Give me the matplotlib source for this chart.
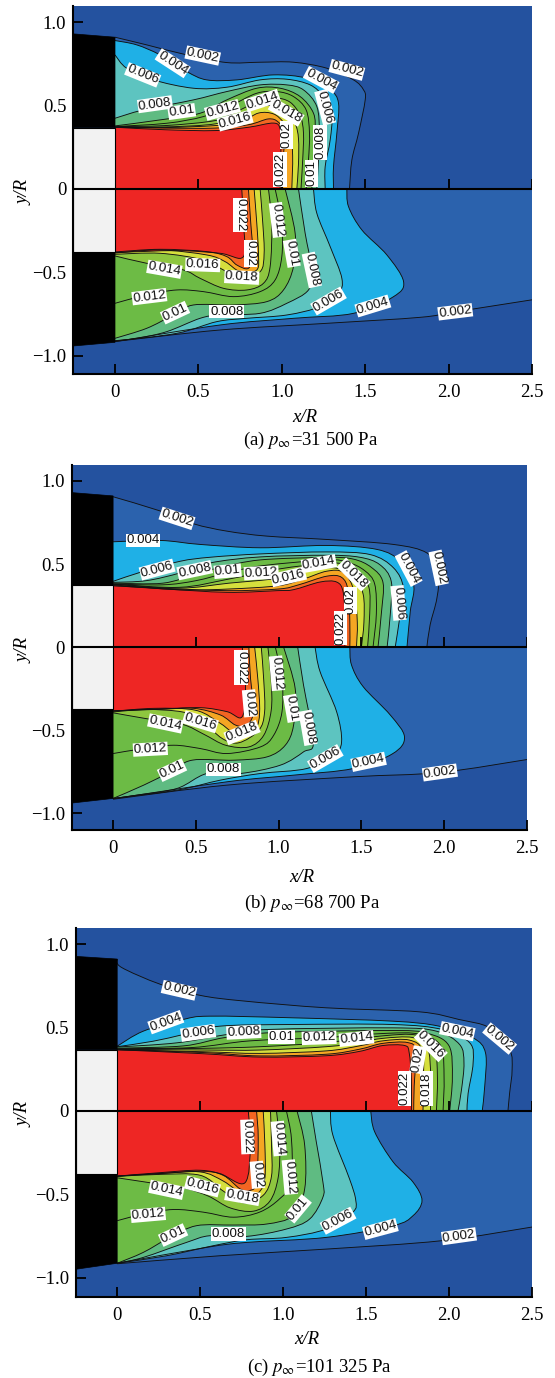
import matplotlib
matplotlib.use('Agg')
import matplotlib.pyplot as plt
from matplotlib.path import Path
from matplotlib.patches import PathPatch, Polygon

plt.rcParams['font.family'] = ['Liberation Serif', 'DejaVu Serif']
plt.rcParams['mathtext.fontset'] = 'stix'

levels = [0.002, 0.004, 0.006, 0.008, 0.01, 0.012, 0.014, 0.016, 0.018, 0.02, 0.022]
band_colors = ['#2b62ad', '#1fb0e6', '#5dc4c0', '#5fbb82', '#6cbb45', '#6dbb45',
               '#8ec63f', '#d6df3d', '#f5a623', '#f26522', '#ee2624']
x_ticks = [0, 0.5, 1.0, 1.5, 2.0, 2.5]
x_tick_labels = ['0', '0.5', '1.0', '1.5', '2.0', '2.5']
y_ticks = [-1.0, -0.5, 0, 0.5, 1.0]
y_tick_labels = ['\u22121.0', '\u22120.5', '0', '0.5', '1.0']

# contour lines, one per level as (x/R, y/R)
a_top = [
    [(0, .91), (.19, .864), (.43, .804), (.67, .758), (.87, .76), (1.07, .76), (1.27, .724), (1.43, .654), (1.49, .594), (1.50, .534), (1.46, .334), (1.42, .174), (1.406, 0)],
    [(0, .89), (.13, .864), (.27, .804), (.43, .704), (.55, .654), (.73, .654), (.95, .684), (1.15, .664), (1.29, .594), (1.34, .514), (1.33, .334), (1.31, .134), (1.31, 0)],
    [(0, .804), (.07, .724), (.23, .654), (.47, .604), (.67, .61), (.87, .654), (1.03, .658), (1.17, .624), (1.25, .554), (1.30, .454), (1.29, .294), (1.26, .134), (1.26, 0)],
    [(0, .424), (.17, .474), (.47, .534), (.67, .584), (.87, .624), (1.03, .624), (1.13, .594), (1.21, .494), (1.226, .334), (1.22, .174), (1.21, 0)],
    [(0, .378), (.27, .414), (.51, .454), (.67, .534), (.85, .604), (.99, .604), (1.11, .554), (1.19, .454), (1.2, .334), (1.19, .174), (1.18, 0)],
    [(0, .374), (.31, .394), (.53, .434), (.69, .498), (.85, .574), (.97, .584), (1.07, .554), (1.146, .474), (1.166, .334), (1.16, .174), (1.146, 0)],
    [(0, .374), (.3, .38), (.6, .41), (.72, .46), (.85, .52), (.96, .545), (1.05, .52), (1.11, .44), (1.13, .334), (1.125, .17), (1.115, 0)],
    [(0, .372), (.3, .372), (.6, .39), (.74, .44), (.86, .49), (.95, .50), (1.02, .47), (1.08, .39), (1.10, .3), (1.10, .15), (1.09, 0)],
    [(0, .37), (.3, .368), (.6, .38), (.75, .40), (.86, .455), (.95, .45), (1.01, .40), (1.05, .33), (1.065, .2), (1.06, 0)],
    [(0, .37), (.3, .365), (.6, .365), (.8, .385), (.92, .42), (.98, .40), (1.02, .33), (1.01, .2), (1.005, 0)],
    [(0, .37), (.3, .355), (.6, .35), (.8, .37), (.95, .395), (.99, .36), (.995, .25), (.99, 0)],
]
a_bottom = [
    [(0, -.915), (.63, -.846), (1.27, -.806), (1.83, -.77), (2.04, -.737), (2.5, -.665)],
    [(1.39, 0), (1.40, -.106), (1.48, -.246), (1.63, -.396), (1.73, -.556), (1.67, -.646), (1.43, -.746), (1.07, -.776), (.63, -.816), (0, -.916)],
    [(1.19, 0), (1.21, -.146), (1.29, -.346), (1.36, -.536), (1.34, -.626), (1.23, -.706), (1.03, -.756), (.79, -.776), (.61, -.796), (.37, -.866), (0, -.912)],
    [(1.10, 0), (1.14, -.266), (1.18, -.486), (1.16, -.606), (1.03, -.686), (.87, -.746), (.63, -.756), (.51, -.776), (.31, -.856), (.13, -.896), (0, -.91)],
    [(1.02, 0), (1.08, -.266), (1.07, -.466), (1.01, -.606), (.91, -.676), (.71, -.696), (.47, -.696), (.35, -.756), (.19, -.836), (0, -.896)],
    [(.96, 0), (1.0, -.206), (1.0, -.406), (.96, -.546), (.87, -.616), (.71, -.646), (.53, -.616), (.37, -.606), (.19, -.636), (0, -.686)],
    [(.92, 0), (.94, -.206), (.93, -.466), (.89, -.566), (.79, -.606), (.65, -.596), (.51, -.536), (.41, -.486), (.19, -.446), (0, -.402)],
    [(.87, 0), (.886, -.206), (.894, -.386), (.87, -.496), (.75, -.53), (.65, -.486), (.53, -.426), (.27, -.386), (0, -.392)],
    [(.834, 0), (.85, -.206), (.86, -.386), (.85, -.486), (.75, -.496), (.66, -.436), (.55, -.396), (.27, -.366), (0, -.385)],
    [(.80, 0), (.814, -.206), (.826, -.386), (.80, -.476), (.73, -.456), (.67, -.406), (.55, -.376), (.27, -.362), (0, -.378)],
    [(.76, 0), (.77, -.2), (.77, -.406), (.63, -.386), (.37, -.37), (0, -.382)],
]
b_top = [
    [(0, .905), (.286, .819), (.487, .742), (.688, .698), (.93, .668), (1.29, .648), (1.694, .618), (1.895, .567), (1.966, .457), (1.956, .296), (1.915, .135), (1.895, 0)],
    [(0, .634), (.286, .642), (.527, .618), (.889, .598), (1.29, .612), (1.594, .588), (1.734, .517), (1.815, .376), (1.795, .215), (1.775, 0)],
    [(0, .396), (.185, .457), (.406, .517), (.587, .541), (.889, .561), (1.29, .573), (1.553, .557), (1.694, .477), (1.754, .356), (1.734, .195), (1.704, 0)],
    [(0, .39), (.2, .40), (.406, .447), (.587, .507), (.889, .543), (1.29, .553), (1.49, .541), (1.61, .497), (1.68, .396), (1.674, .195), (1.655, 0)],
    [(0, .385), (.3, .385), (.5, .44), (.65, .48), (.889, .525), (1.29, .54), (1.45, .53), (1.56, .48), (1.63, .39), (1.62, .2), (1.60, 0)],
    [(0, .38), (.3, .375), (.5, .40), (.7, .45), (.9, .49), (1.29, .525), (1.42, .51), (1.52, .46), (1.58, .38), (1.59, .2), (1.57, 0)],
    [(0, .38), (.4, .36), (.7, .41), (1.0, .47), (1.29, .505), (1.40, .495), (1.48, .44), (1.545, .36), (1.55, .2), (1.537, 0)],
    [(0, .378), (.4, .355), (.7, .385), (1.0, .415), (1.2, .465), (1.35, .475), (1.45, .42), (1.51, .32), (1.515, .15), (1.50, 0)],
    [(0, .375), (.4, .345), (.7, .35), (1.0, .37), (1.15, .41), (1.29, .457), (1.39, .45), (1.455, .34), (1.475, .15), (1.47, 0)],
    [(0, .37), (.286, .355), (.688, .34), (1.0, .35), (1.12, .375), (1.29, .427), (1.38, .42), (1.42, .34), (1.43, .15), (1.43, 0)],
    [(0, .37), (.286, .352), (.688, .33), (.99, .34), (1.09, .346), (1.25, .392), (1.35, .392), (1.39, .33), (1.40, .15), (1.40, 0)],
]
b_bottom = [
    [(0, -.915), (.688, -.83), (1.45, -.78), (1.974, -.754), (2.5, -.676)],
    [(1.43, 0), (1.44, -.107), (1.51, -.237), (1.674, -.408), (1.76, -.54), (1.69, -.64), (1.45, -.73), (1.09, -.77), (.688, -.81), (0, -.912)],
    [(1.22, 0), (1.25, -.147), (1.35, -.388), (1.38, -.57), (1.33, -.65), (1.17, -.73), (.89, -.76), (.648, -.80), (.386, -.86), (0, -.91)],
    [(1.115, 0), (1.15, -.227), (1.21, -.57), (1.15, -.63), (1.01, -.71), (.77, -.76), (.567, -.76), (.386, -.85), (.145, -.89), (0, -.91)],
    [(1.03, 0), (1.10, -.25), (1.09, -.47), (1.04, -.59), (.93, -.66), (.73, -.68), (.477, -.68), (.346, -.75), (.185, -.83), (0, -.91)],
    [(.98, 0), (1.02, -.19), (1.02, -.39), (.97, -.53), (.89, -.60), (.688, -.64), (.527, -.61), (.366, -.59), (.185, -.61), (0, -.64)],
    [(.935, 0), (.955, -.2), (.955, -.38), (.91, -.53), (.82, -.60), (.68, -.59), (.55, -.525), (.42, -.465), (.2, -.43), (0, -.395)],
    [(.895, 0), (.91, -.2), (.915, -.39), (.88, -.5), (.76, -.575), (.66, -.55), (.53, -.44), (.42, -.39), (.2, -.375), (0, -.39)],
    [(.855, 0), (.875, -.2), (.885, -.39), (.86, -.49), (.76, -.535), (.65, -.46), (.5, -.38), (.25, -.368), (0, -.386)],
    [(.82, 0), (.83, -.187), (.85, -.378), (.81, -.469), (.74, -.469), (.648, -.408), (.487, -.368), (.286, -.372), (0, -.384)],
    [(.78, 0), (.80, -.227), (.78, -.418), (.688, -.388), (.527, -.364), (.286, -.374), (0, -.382)],
]
c_top = [
    [(0, .91), (.026, .86), (.257, .76), (.498, .693), (.76, .659), (1.26, .618), (1.82, .594), (2.06, .548), (2.245, .498), (2.365, .367), (2.38, .247), (2.365, .106), (2.355, 0)],
    [(0, .388), (.157, .478), (.398, .548), (.558, .568), (1.06, .558), (1.66, .538), (1.94, .508), (2.145, .438), (2.22, .347), (2.215, .147), (2.2, 0)],
    [(0, .385), (.217, .418), (.398, .458), (.618, .508), (1.06, .518), (1.66, .518), (1.96, .488), (2.125, .408), (2.145, .287), (2.115, .106), (2.108, 0)],
    [(0, .383), (.357, .408), (.659, .458), (.90, .488), (1.66, .498), (1.924, .478), (2.064, .398), (2.09, .287), (2.075, .127), (2.054, 0)],
    [(0, .376), (.4, .39), (.65, .44), (.95, .47), (1.66, .482), (1.87, .465), (2.0, .39), (2.02, .2), (2.004, 0)],
    [(0, .373), (.45, .38), (.8, .42), (1.26, .44), (1.62, .465), (1.82, .46), (1.95, .39), (1.97, .2), (1.964, 0)],
    [(0, .37), (.5, .375), (.86, .385), (1.26, .41), (1.6, .45), (1.8, .455), (1.91, .39), (1.93, .2), (1.924, 0)],
    [(0, .37), (.518, .365), (.86, .365), (1.26, .385), (1.46, .41), (1.6, .435), (1.78, .44), (1.87, .38), (1.89, .2), (1.888, 0)],
    [(0, .367), (.518, .355), (.86, .345), (1.26, .36), (1.46, .39), (1.60, .42), (1.76, .425), (1.84, .36), (1.845, .15), (1.843, 0)],
    [(0, .367), (.518, .35), (.86, .33), (1.26, .34), (1.46, .37), (1.60, .405), (1.75, .41), (1.80, .36), (1.79, .15), (1.787, 0)],
    [(0, .367), (.518, .343), (.86, .323), (1.26, .331), (1.46, .357), (1.60, .392), (1.733, .392), (1.76, .347), (1.773, .187), (1.773, 0)],
]
c_bottom = [
    [(0, -.915), (.618, -.867), (1.26, -.827), (1.954, -.777), (2.5, -.695)],
    [(1.528, 0), (1.552, -.125), (1.663, -.305), (1.783, -.426), (1.837, -.536), (1.783, -.627), (1.663, -.687), (1.26, -.757), (.78, -.787), (.538, -.817), (0, -.912)],
    [(1.285, 0), (1.30, -.145), (1.40, -.406), (1.438, -.536), (1.42, -.606), (1.26, -.707), (1.02, -.757), (.78, -.771), (.578, -.807), (.297, -.867), (0, -.912)],
    [(1.17, 0), (1.20, -.185), (1.24, -.426), (1.24, -.516), (1.16, -.647), (1.02, -.707), (.78, -.751), (.558, -.747), (.418, -.787), (.157, -.877), (0, -.912)],
    [(1.084, 0), (1.13, -.205), (1.13, -.466), (1.06, -.627), (.90, -.677), (.70, -.683), (.478, -.687), (.317, -.757), (.157, -.847), (0, -.912)],
    [(1.02, 0), (1.05, -.165), (1.05, -.425), (.98, -.525), (.86, -.605), (.70, -.636), (.52, -.606), (.34, -.59), (.157, -.617), (0, -.657)],
    [(.96, 0), (.98, -.2), (.97, -.4), (.92, -.54), (.82, -.60), (.68, -.58), (.55, -.51), (.40, -.46), (.2, -.43), (0, -.40)],
    [(.924, 0), (.93, -.2), (.93, -.39), (.88, -.505), (.76, -.55), (.64, -.48), (.50, -.385), (.25, -.38), (0, -.392)],
    [(.88, 0), (.89, -.2), (.89, -.4), (.85, -.49), (.76, -.50), (.64, -.42), (.50, -.365), (.25, -.375), (0, -.39)],
    [(.84, 0), (.85, -.165), (.84, -.426), (.80, -.476), (.74, -.466), (.64, -.386), (.50, -.355), (.25, -.37), (0, -.39)],
    [(.79, 0), (.803, -.205), (.77, -.43), (.62, -.375), (.50, -.361), (.257, -.375), (0, -.39)],
]

# contour labels: text, x/R, y/R, angle
a_labels = [
    ('0.002', .526, .80, -12), ('0.004', .346, .754, -33), ('0.006', .166, .684, -22),
    ('0.008', .24, .508, 8), ('0.01', .40, .464, 8), ('0.012', .644, .474, 15),
    ('0.016', .72, .41, 15), ('0.014', .884, .53, 18), ('0.018', 1.026, .46, -30),
    ('0.02', 1.03, .324, 90), ('0.022', .99, .118, 90), ('0.002', 1.39, .714, -15),
    ('0.004', 1.236, .654, -28), ('0.006', 1.26, .49, -75), ('0.008', 1.23, .278, 90),
    ('0.01', 1.18, .094, 90),
    ('0.022', .75, -.156, -90), ('0.02', .814, -.386, -90), ('0.012', .974, -.186, -83),
    ('0.01', 1.06, -.386, -80), ('0.008', 1.18, -.486, -78), ('0.014', .296, -.482, -10),
    ('0.016', .526, -.456, -2), ('0.018', .76, -.53, -3), ('0.012', .206, -.646, 7),
    ('0.01', .36, -.742, 25), ('0.008', .67, -.736, 0), ('0.006', 1.28, -.672, 30),
    ('0.004', 1.546, -.702, 17), ('0.002', 2.04, -.737, 7),
]
b_labels = [
    ('0.002', .386, .775, -18), ('0.004', .18, .642, 0), ('0.006', .266, .467, 15),
    ('0.008', .493, .463, 12), ('0.01', .692, .457, 5), ('0.012', .895, .447, 3),
    ('0.016', 1.06, .423, 13), ('0.014', 1.243, .503, 10), ('0.018', 1.453, .437, -45),
    ('0.02', 1.433, .28, 90), ('0.022', 1.372, .115, 90), ('0.006', 1.724, .266, -85),
    ('0.004', 1.785, .473, -62), ('0.002', 1.966, .477, -78),
    ('0.022', .773, -.123, -90), ('0.02', .825, -.338, -85), ('0.012', .99, -.157, -85),
    ('0.01', 1.08, -.368, -80), ('0.008', 1.177, -.485, -80), ('0.014', .316, -.459, -12),
    ('0.016', .527, -.449, -17), ('0.018', .779, -.513, 22), ('0.012', .225, -.614, 3),
    ('0.01', .356, -.74, 25), ('0.008', .668, -.736, 0), ('0.006', 1.282, -.67, 30),
    ('0.004', 1.543, -.69, 12), ('0.002', 1.974, -.754, 8),
]
c_labels = [
    ('0.002', .373, .723, -13), ('0.004', .293, .532, 20), ('0.006', .488, .468, 8),
    ('0.008', .763, .472, 3), ('0.01', .99, .444, 0), ('0.012', 1.217, .438, 2),
    ('0.014', 1.442, .434, 6), ('0.016', 1.89, .394, -45), ('0.02', 1.813, .307, 80),
    ('0.022', 1.733, .133, 90), ('0.018', 1.863, .133, 90), ('0.004', 2.05, .478, -12),
    ('0.002', 2.305, .434, -40),
    ('0.022', .785, -.155, -88), ('0.02', .845, -.382, -85), ('0.014', .974, -.165, -85),
    ('0.012', 1.04, -.396, -85), ('0.01', 1.09, -.586, 50), ('0.014', .297, -.472, -12),
    ('0.016', .514, -.452, -15), ('0.018', .755, -.512, -10), ('0.012', .187, -.622, 5),
    ('0.01', .337, -.743, 25), ('0.008', .669, -.737, 0), ('0.006', 1.331, -.657, 28),
    ('0.004', 1.586, -.707, 15), ('0.002', 2.06, -.75, 8),
]

# nozzle block edges: y at x=-0.25 and x=0 for outer edge, then step height
a_wall = (.93, .91, .368, -.38, -.942, -.92)
b_wall = (.93, .91, .372, -.372, -.938, -.91)
c_wall = (.926, .91, .367, -.375, -.948, -.912)

W, H = 555, 1378
fig = plt.figure(figsize=(W / 100, H / 100), dpi=100)


def smooth(pts):
    # curve through the read points (bezier segments, catmull-rom tangents)
    verts = [pts[0]]
    codes = [Path.MOVETO]
    n = len(pts)
    for i in range(n - 1):
        p0 = pts[max(i - 1, 0)]
        p1 = pts[i]
        p2 = pts[i + 1]
        p3 = pts[min(i + 2, n - 1)]
        c1 = (p1[0] + (p2[0] - p0[0]) / 6, p1[1] + (p2[1] - p0[1]) / 6)
        c2 = (p2[0] - (p3[0] - p1[0]) / 6, p2[1] - (p3[1] - p1[1]) / 6)
        verts += [c1, c2, p2]
        codes += [Path.CURVE4] * 3
    return verts, codes


def draw_half(ax, lines):
    for k, (pts, col) in enumerate(zip(lines, band_colors)):
        verts, codes = smooth(pts)
        last = verts[-1]
        fill_v = verts + [(last[0], 0), (0, 0), (0, 0)]
        fill_c = codes + [Path.LINETO, Path.LINETO, Path.CLOSEPOLY]
        ax.add_patch(PathPatch(Path(fill_v, fill_c), fc=col, ec='none', zorder=2 + k * 0.01))
    for pts in lines:
        verts, codes = smooth(pts)
        ax.add_patch(PathPatch(Path(verts, codes), fc='none', ec='#111111', lw=0.65, zorder=3))


def draw_panel(box, ylim, top, bottom, labels, wall):
    left, right, ytop, ybot = box
    ax = fig.add_axes([left / W, 1 - ybot / H, (right - left) / W, (ybot - ytop) / H])
    ax.set_xlim(-0.25, 2.5)
    ax.set_ylim(*ylim)
    ax.set_facecolor('#24529f')
    draw_half(ax, top)
    draw_half(ax, bottom)

    up0, up1, step_up, step_dn, dn0, dn1 = wall
    ax.add_patch(Polygon([(-.25, up0), (0, up1), (0, step_up), (-.25, step_up)], fc='black', ec='black', lw=0.5, zorder=4))
    ax.add_patch(Polygon([(-.25, dn0), (0, dn1), (0, step_dn), (-.25, step_dn)], fc='black', ec='black', lw=0.5, zorder=4))
    ax.add_patch(Polygon([(-.25, step_dn), (0, step_dn), (0, step_up), (-.25, step_up)], fc='#f2f2f2', ec='black', lw=0.8, zorder=4))

    ax.axhline(0, color='black', lw=1.5, zorder=5)
    ax.vlines(x_ticks[1:], 0, 0.06, color='black', lw=1.3, zorder=5)

    for txt, x, y, ang in labels:
        ax.text(x, y, txt, rotation=ang, rotation_mode='anchor', ha='center', va='center',
                family='Liberation Sans', fontsize=9.6, color='#111111', zorder=6,
                bbox=dict(fc='white', ec='none', pad=0.5))

    ax.set_xticks(x_ticks)
    ax.set_xticklabels(x_tick_labels)
    ax.set_yticks(y_ticks)
    ax.set_yticklabels(y_tick_labels)
    ax.tick_params(direction='in', length=7, width=1.3, labelsize=13.5)
    ax.tick_params(axis='x', pad=7)
    ax.tick_params(axis='y', pad=5)
    ax.spines['top'].set_visible(False)
    ax.spines['right'].set_visible(False)
    for s in ('left', 'bottom'):
        ax.spines[s].set_linewidth(1.5)
        ax.spines[s].set_zorder(7)
    return ax


def label_at(px, py, s, **kw):
    fig.text(px / W, 1 - py / H, s, ha='center', va='center', **kw)


draw_panel((73.3, 532, 5.7, 374), (-1.11, 1.099), a_top, a_bottom, a_labels, a_wall)
draw_panel((71.7, 527, 465, 830), (-1.10, 1.096), b_top, b_bottom, b_labels, b_wall)
draw_panel((75.7, 532, 928, 1297), (-1.114, 1.096), c_top, c_bottom, c_labels, c_wall)

label_at(305, 417, 'x/R', style='italic', fontsize=13.5)
label_at(302, 877, 'x/R', style='italic', fontsize=13.5)
label_at(307, 1340, 'x/R', style='italic', fontsize=13.5)
label_at(24, 192, 'y/R', style='italic', fontsize=13.5, rotation=90)
label_at(24, 650, 'y/R', style='italic', fontsize=13.5, rotation=90)
label_at(24, 1114, 'y/R', style='italic', fontsize=13.5, rotation=90)
label_at(311, 440, r'(a) $p_{\infty}$=31 500 Pa', fontsize=13.5)
label_at(312, 903, r'(b) $p_{\infty}$=68 700 Pa', fontsize=13.5)
label_at(319, 1367, r'(c) $p_{\infty}$=101 325 Pa', fontsize=13.5)

fig.savefig('out.png', dpi=100)
